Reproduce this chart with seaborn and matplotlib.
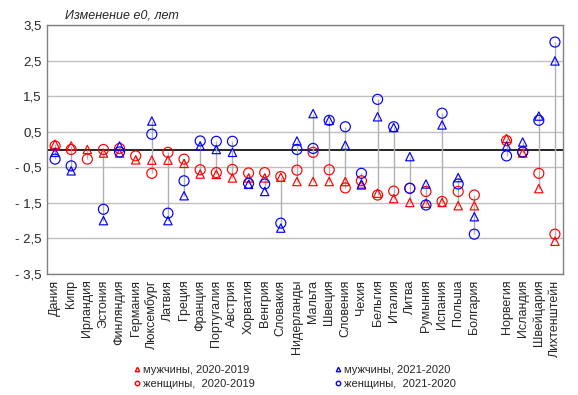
import numpy as np
import matplotlib
matplotlib.use("Agg")
import matplotlib.pyplot as plt
import seaborn as sns
from matplotlib.lines import Line2D

countries = ["Дания", "Кипр", "Ирландия", "Эстония", "Финляндия", "Германия",
             "Люксембург", "Латвия", "Греция", "Франция", "Португалия", "Австрия",
             "Хорватия", "Венгрия", "Словакия", "Нидерланды", "Мальта", "Швеция",
             "Словения", "Чехия", "Бельгия", "Италия", "Литва", "Румыния",
             "Испания", "Польша", "Болгария",
             "Норвегия", "Исландия", "Швейцария", "Лихтенштейн"]
n_eu = 27  # after these a blank slot separates the non-EU countries

men_2020 = [0.15, 0.10, 0.00, -0.10, -0.10, -0.29, -0.30, -0.30, -0.39, -0.69,
            -0.70, -0.80, -0.80, -0.80, -0.78, -0.90, -0.90, -0.90, -0.90, -1.00,
            -1.23, -1.38, -1.49, -1.51, -1.49, -1.58, -1.58,
            0.31, -0.10, -1.10, -2.58]
women_2020 = [0.10, 0.00, -0.27, 0.00, 0.03, -0.18, -0.67, -0.08, -0.27, -0.57,
              -0.65, -0.56, -0.66, -0.65, -0.76, -0.58, -0.08, -0.57, -1.08, -0.88,
              -1.28, -1.17, -1.09, -1.18, -1.46, -1.18, -1.28,
              0.25, -0.07, -0.67, -2.38]
men_2021 = [-0.08, -0.60, np.nan, -2.00, 0.10, np.nan, 0.80, -2.00, -1.30, 0.10,
            0.00, -0.08, -0.98, -1.18, -2.21, 0.24, 1.01, 0.82, 0.12, -0.97,
            0.92, 0.62, -0.20, -0.97, 0.69, -0.79, -1.89,
            0.10, 0.21, 0.94, 2.49]
women_2021 = [-0.27, -0.46, np.nan, -1.68, -0.07, np.nan, 0.43, -1.79, -0.88, 0.24,
              0.23, 0.23, -0.95, -0.97, -2.07, 0.00, 0.03, 0.82, 0.64, -0.67,
              1.41, 0.64, -1.09, -1.56, 1.02, -0.97, -2.38,
              -0.18, -0.07, 0.82, 3.02]

yticks = [3.5, 2.5, 1.5, 0.5, -0.5, -1.5, -2.5, -3.5]
ytick_labels = ["3,5", "2,5", "1,5", "0,5", "- 0,5", "- 1,5", "- 2,5", "- 3,5"]

pos = np.array([i if i < n_eu else i + 1 for i in range(len(countries))])

sns.set_style("white")
plt.rcParams["font.family"] = ["Liberation Sans", "DejaVu Sans"]

fig = plt.figure(figsize=(5.78, 3.95), dpi=100)
ax = fig.add_axes([47 / 578, 1 - 274 / 395, 516 / 578, 249 / 395])

for y in yticks:
    ax.axhline(y, color="#c0c0c0", lw=1, zorder=0)
ax.axhline(0, color="black", lw=1.2, zorder=1)

allv = np.array([men_2020, women_2020, men_2021, women_2021], dtype=float)
lo = np.nanmin(allv, axis=0)
hi = np.nanmax(allv, axis=0)
ax.vlines(pos, lo, hi, color="#b0b0b0", lw=1, zorder=1)

series = [(men_2020, "^", "red", 36), (women_2020, "o", "red", 52),
          (men_2021, "^", "blue", 36), (women_2021, "o", "blue", 52)]
for vals, mk, col, s in series:
    sns.scatterplot(x=pos, y=vals, marker=mk, s=s, facecolor="none",
                    edgecolor=col, linewidth=0.85, ax=ax, zorder=3, legend=False)

ax.set_xlim(-0.5, pos[-1] + 0.5)
ax.set_ylim(-3.5, 3.5)
ax.set_yticks(yticks)
ax.set_yticklabels(ytick_labels, fontsize=9.5)
ax.set_xticks(pos)
ax.set_xticklabels(countries, rotation=90, fontsize=9)
ax.tick_params(length=0, pad=4)
for sp in ax.spines.values():
    sp.set_color("#808080")
    sp.set_linewidth(1)

fig.text(65 / 578, 1 - 15 / 395, "Изменение e0, лет", style="italic",
         fontsize=9, va="center")

handles = [
    Line2D([], [], ls="none", marker="^", mfc="none", mec="red", ms=3.2, label="мужчины, 2020-2019"),
    Line2D([], [], ls="none", marker="o", mfc="none", mec="red", ms=3.2, label="женщины,  2020-2019"),
    Line2D([], [], ls="none", marker="^", mfc="none", mec="blue", ms=3.2, label="мужчины, 2021-2020"),
    Line2D([], [], ls="none", marker="o", mfc="none", mec="blue", ms=3.2, label="женщины,  2021-2020"),
]
fig.legend(handles=handles, ncol=2, loc="center", bbox_to_anchor=(0.51, 0.046),
           frameon=False, fontsize=8, handlelength=0.6, handletextpad=0.2,
           columnspacing=7.2, labelspacing=0.35)

fig.savefig("out.png", dpi=100)
